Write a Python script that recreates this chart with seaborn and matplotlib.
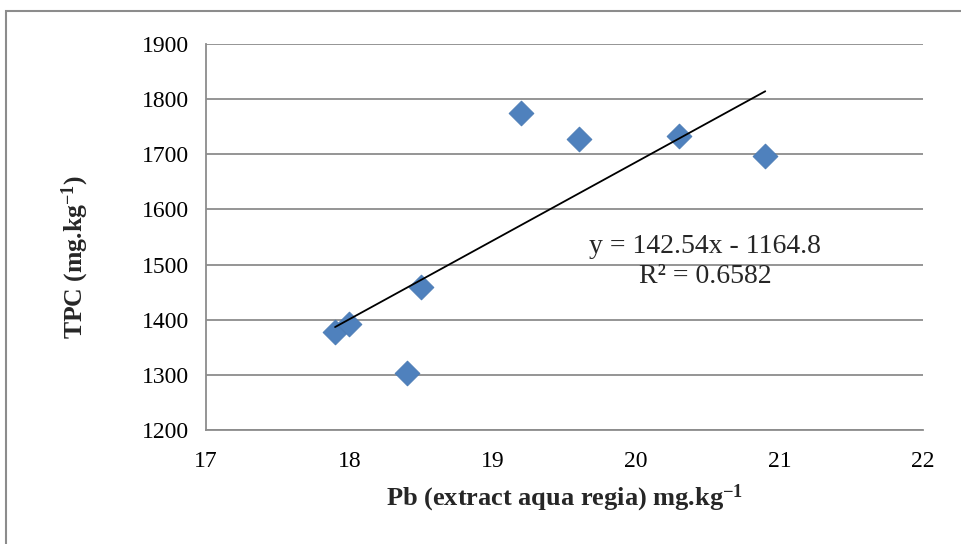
import numpy as np
import pandas as pd
import matplotlib
matplotlib.use('Agg')
import matplotlib.pyplot as plt
import matplotlib.patches as patches
import seaborn as sns

# data
pb = [17.9, 18.0, 18.4, 18.5, 19.2, 19.6, 20.3, 20.9]
tpc = [1377, 1392, 1303, 1460, 1775, 1727, 1733, 1696]
slope = 142.54
intercept = -1164.8
r2 = 0.6582
x_ticks = [17, 18, 19, 20, 21, 22]
y_ticks = [1200, 1300, 1400, 1500, 1600, 1700, 1800, 1900]

df = pd.DataFrame({'Pb': pb, 'TPC': tpc})

sns.set_theme(style='white')
plt.rcParams['font.family'] = ['Liberation Serif', 'DejaVu Serif']
plt.rcParams['mathtext.fontset'] = 'custom'
plt.rcParams['mathtext.rm'] = 'Liberation Serif:bold'
plt.rcParams['mathtext.bf'] = 'Liberation Serif:bold'
plt.rcParams['mathtext.default'] = 'bf'

fig = plt.figure(figsize=(9.61, 5.44), dpi=100)
ax = fig.add_axes([206/961, 1-430/544, (923-206)/961, (430-44)/544])

# outer frame of the chart
fig.add_artist(patches.Rectangle((6/961, -0.2), 1.2, 1.2 - 11/544,
                                 transform=fig.transFigure, fill=False,
                                 edgecolor='#8c8c8c', linewidth=1.5))

sns.scatterplot(data=df, x='Pb', y='TPC', marker='D', s=160, color='#4F81BD',
                edgecolor='#4A7AB3', linewidth=0.6, ax=ax, zorder=3)

# linear trendline
xl = np.array([min(pb), max(pb)])
ax.plot(xl, slope * xl + intercept, color='black', linewidth=1.3, zorder=4)

ax.set_xlim(17, 22)
ax.set_ylim(1200, 1900)
ax.set_xticks(x_ticks)
ax.set_yticks(y_ticks)
ax.yaxis.grid(True, color='#8c8c8c', linewidth=1.3)
ax.xaxis.grid(False)
ax.set_axisbelow(True)

for side in ['top', 'right']:
    ax.spines[side].set_visible(False)
for side in ['left', 'bottom']:
    ax.spines[side].set_color('#8c8c8c')
    ax.spines[side].set_linewidth(1.3)

ax.tick_params(axis='both', which='major', labelsize=17, colors='black',
               direction='out', length=6, width=1.3, color='#8c8c8c', pad=6)
ax.tick_params(axis='x', pad=9)

ax.set_xlabel(r'Pb (extract aqua regia) mg.kg$^{-1}$', fontsize=19,
              fontweight='bold', labelpad=8)
ax.set_ylabel(r'TPC (mg.kg$^{-1}$)', fontsize=18.5, fontweight='bold')
ax.yaxis.set_label_coords(-0.161, 0.448)

ax.text(20.48, 1505, 'y = 142.54x - 1164.8\nR² = 0.6582', fontsize=20,
        ha='center', va='center', linespacing=1.25)

fig.savefig('out.png', dpi=100)
